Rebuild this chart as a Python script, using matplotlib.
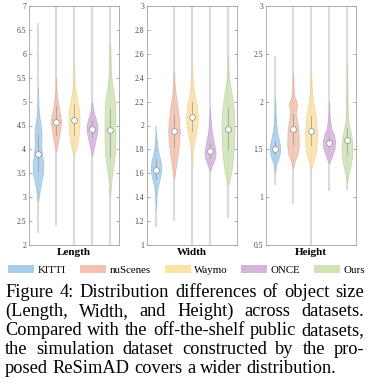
import numpy as np
import matplotlib
matplotlib.use("Agg")
import matplotlib.pyplot as plt
from matplotlib.patches import Patch

plt.rcParams['font.family'] = ['Liberation Serif', 'DejaVu Serif']

# Data
datasets = ["KITTI", "nuScenes", "Waymo", "ONCE", "Ours"]
colors = ["#a8cdea", "#f3c2ae", "#fce3a6", "#d5b4dc", "#d0e3b6"]
edges = ["#9cc2e0", "#e6b3a0", "#eed496", "#c8a6d0", "#c0d6a4"]

panels = ["Length", "Width", "Height"]
ylims = [(2, 7), (1, 3), (0.5, 3)]
ysteps = [0.5, 0.2, 0.5]

# median per dataset
length_med = [3.9, 4.58, 4.62, 4.42, 4.4]
width_med = [1.63, 1.95, 2.07, 1.79, 1.97]
height_med = [1.5, 1.71, 1.69, 1.57, 1.6]

# interquartile range (q1, q3)
length_iqr = [(3.55, 4.3), (4.3, 4.9), (4.3, 4.95), (4.25, 4.6), (3.85, 4.85)]
width_iqr = [(1.55, 1.72), (1.82, 2.1), (1.95, 2.2), (1.73, 1.85), (1.8, 2.15)]
height_iqr = [(1.45, 1.58), (1.55, 1.87), (1.55, 1.85), (1.52, 1.63), (1.45, 1.72)]

# min / max range
length_rng = [(2.25, 6.65), (2.4, 7.0), (2.0, 7.0), (2.0, 7.0), (2.0, 7.0)]
width_rng = [(1.15, 2.0), (1.2, 3.0), (1.0, 3.0), (1.0, 3.0), (1.23, 3.0)]
height_rng = [(1.13, 2.48), (0.93, 3.0), (0.5, 3.0), (1.06, 3.0), (1.08, 3.0)]

# violin outlines: value levels and half widths
length_y = [
    [2.9, 3.2, 3.5, 3.7, 3.9, 4.1, 4.3, 4.5, 4.7, 4.9, 5.3],
    [3.95, 4.1, 4.3, 4.5, 4.6, 4.75, 4.9, 5.1, 5.3, 5.5],
    [3.9, 4.0, 4.2, 4.5, 4.7, 4.9, 5.1, 5.2, 5.4, 5.8],
    [3.85, 4.0, 4.2, 4.4, 4.5, 4.65, 4.8, 5.0],
    [3.0, 3.3, 3.6, 3.9, 4.2, 4.6, 5.0, 5.3, 5.6, 6.2],
]
length_hw = [
    [0.0, 0.12, 0.28, 0.3, 0.22, 0.18, 0.2, 0.15, 0.07, 0.02, 0.0],
    [0.0, 0.08, 0.18, 0.26, 0.28, 0.22, 0.14, 0.06, 0.02, 0.0],
    [0.0, 0.12, 0.22, 0.3, 0.3, 0.24, 0.15, 0.1, 0.03, 0.0],
    [0.0, 0.08, 0.2, 0.3, 0.3, 0.2, 0.08, 0.0],
    [0.0, 0.06, 0.16, 0.27, 0.3, 0.3, 0.27, 0.15, 0.05, 0.0],
]
width_y = [
    [1.3, 1.45, 1.55, 1.63, 1.7, 1.8, 1.9, 1.95],
    [1.55, 1.65, 1.75, 1.85, 1.95, 2.05, 2.15, 2.25, 2.35, 2.45],
    [1.65, 1.8, 1.9, 2.0, 2.07, 2.15, 2.25, 2.35, 2.5],
    [1.62, 1.68, 1.73, 1.78, 1.85, 1.95, 2.05, 2.15],
    [1.5, 1.57, 1.65, 1.8, 1.95, 2.1, 2.25, 2.35, 2.45, 2.6],
]
width_hw = [
    [0.0, 0.05, 0.2, 0.3, 0.25, 0.1, 0.02, 0.0],
    [0.0, 0.1, 0.2, 0.28, 0.32, 0.28, 0.2, 0.1, 0.03, 0.0],
    [0.0, 0.05, 0.18, 0.3, 0.32, 0.28, 0.15, 0.06, 0.0],
    [0.0, 0.15, 0.28, 0.31, 0.22, 0.1, 0.03, 0.0],
    [0.0, 0.12, 0.22, 0.32, 0.36, 0.34, 0.22, 0.1, 0.03, 0.0],
]
height_y = [
    [1.25, 1.35, 1.42, 1.5, 1.58, 1.68, 1.8, 2.05],
    [1.3, 1.38, 1.45, 1.55, 1.7, 1.8, 1.88, 1.95, 2.0, 2.05, 2.15, 2.3],
    [1.3, 1.36, 1.45, 1.55, 1.7, 1.85, 2.0, 2.1, 2.3],
    [1.35, 1.42, 1.5, 1.58, 1.65, 1.72, 1.85, 2.0],
    [1.15, 1.22, 1.3, 1.4, 1.5, 1.6, 1.7, 1.8, 1.95, 2.4],
]
height_hw = [
    [0.0, 0.08, 0.22, 0.3, 0.24, 0.12, 0.05, 0.0],
    [0.0, 0.1, 0.25, 0.32, 0.3, 0.22, 0.15, 0.22, 0.2, 0.08, 0.03, 0.0],
    [0.0, 0.1, 0.25, 0.32, 0.33, 0.25, 0.12, 0.05, 0.0],
    [0.0, 0.15, 0.3, 0.34, 0.28, 0.12, 0.03, 0.0],
    [0.0, 0.06, 0.16, 0.26, 0.3, 0.28, 0.18, 0.08, 0.03, 0.0],
]

meds = [length_med, width_med, height_med]
iqrs = [length_iqr, width_iqr, height_iqr]
rngs = [length_rng, width_rng, height_rng]
ys = [length_y, width_y, height_y]
hws = [length_hw, width_hw, height_hw]

caption = [
    "Figure 4: Distribution differences of object size",
    "(Length, Width, and Height) across datasets.",
    "Compared with the off-the-shelf public datasets,",
    "the simulation dataset constructed by the pro-",
    "posed ReSimAD covers a wider distribution.",
]

W, H = 370, 388
fig = plt.figure(figsize=(W / 100, H / 100), dpi=100)

lefts = [29, 147, 266]
for k, name in enumerate(panels):
    ax = fig.add_axes([lefts[k] / W, 1 - 245 / H, 90 / W, 239 / H])
    for i in range(5):
        pos = i + 1
        lo, hi = rngs[k][i]
        ax.plot([pos, pos], [lo, hi], color="#dcdcdc", lw=1.6, zorder=1,
                solid_capstyle="butt")
        y = np.array(ys[k][i])
        hw = np.array(hws[k][i])
        ax.fill_betweenx(y, pos - hw, pos + hw, facecolor=colors[i],
                         edgecolor=edges[i], lw=0.6, alpha=0.85, zorder=2)
        q1, q3 = iqrs[k][i]
        ax.plot([pos, pos], [q1, q3], color="#9a9a9a", lw=0.5, zorder=3)
        ax.plot(pos, meds[k][i], "o", ms=4.2, mfc="white", mec="#9a9a9a",
                mew=0.6, zorder=4)
    lo, hi = ylims[k]
    ax.set_ylim(lo, hi)
    ax.set_xlim(0.5, 5.5)
    ax.set_yticks(np.arange(lo, hi + 1e-9, ysteps[k]))
    ax.yaxis.set_major_formatter(plt.FuncFormatter(lambda v, p: f"{v:g}"))
    ax.set_xticks([])
    ax.tick_params(axis="y", direction="in", length=2, width=0.5,
                   color="#888888", labelsize=5.5, labelcolor="#444444",
                   right=True, pad=2)
    for s in ax.spines.values():
        s.set_color("#a0a0a0")
        s.set_linewidth(0.6)
    ax.set_xlabel(name, fontsize=8, fontweight="bold", labelpad=2)

handles = [Patch(facecolor=c, edgecolor="none") for c in colors]
fig.legend(handles, datasets, loc="center", bbox_to_anchor=(0.505, 1 - 270 / H),
           ncol=5, frameon=False, fontsize=7.8, handlelength=2.4, handleheight=0.75,
           handletextpad=0.3, columnspacing=1.3)

# caption, justified line by line
r = fig.canvas.get_renderer()
probe = fig.text(0, 0, caption[-1], fontsize=10)
fs = 10 * 330 / probe.get_window_extent(r).width
probe.remove()

x0, x1 = 5, 364
for j, line in enumerate(caption):
    yb = 1 - (297 + 19 * j) / H
    words = line.split()
    ts = [fig.text(0, yb, w, fontsize=fs, va="baseline", ha="left") for w in words]
    ws = [t.get_window_extent(r).width for t in ts]
    if j < len(caption) - 1:
        gap = (x1 - x0 - sum(ws)) / (len(words) - 1)
    else:
        sp = fig.text(0, 0, "a a", fontsize=fs)
        sa = fig.text(0, 0, "aa", fontsize=fs)
        gap = sp.get_window_extent(r).width - sa.get_window_extent(r).width
        sp.remove()
        sa.remove()
    x = x0
    for t, w in zip(ts, ws):
        t.set_x(x / W)
        x += w + gap

fig.savefig("out.png", dpi=100)
